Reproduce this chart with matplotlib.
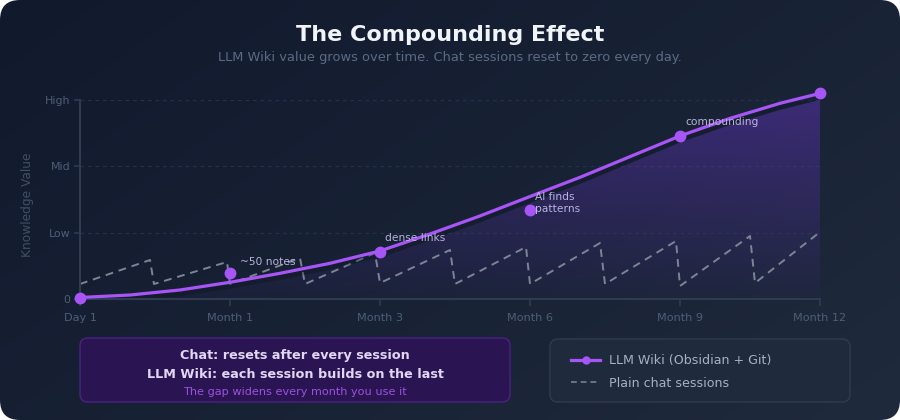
import numpy as np
import matplotlib
matplotlib.use("Agg")
import matplotlib.pyplot as plt
from matplotlib.patches import FancyBboxPatch
from matplotlib.lines import Line2D

# timeline position (px-like units from Day 1) and readings
tick_pos = [0, 150, 300, 450, 600, 740]
tick_labels = ["Day 1", "Month 1", "Month 3", "Month 6", "Month 9", "Month 12"]
level_labels = ["0", "Low", "Mid", "High"]

wiki_x = [0, 50, 100, 150, 200, 250, 300, 350, 400, 450, 500, 550, 600, 650, 700, 740]
wiki_y = [0.023, 0.060, 0.136, 0.252, 0.387, 0.538, 0.724, 0.980, 1.252, 1.545,
          1.834, 2.146, 2.458, 2.723, 2.950, 3.100]

milestone_x = [0, 150, 300, 450, 600, 740]
milestone_y = [0.02, 0.39, 0.71, 1.34, 2.46, 3.10]
milestone_txt = ["", "~50 notes", "dense links", "AI finds\npatterns", "compounding", ""]

chat_x = [0, 70, 74, 147, 150, 220, 225, 295, 300, 370, 375, 446, 450,
          520, 525, 596, 600, 670, 675, 740]
chat_y = [0.226, 0.588, 0.226, 0.558, 0.226, 0.618, 0.226, 0.693, 0.241, 0.739,
          0.226, 0.784, 0.226, 0.844, 0.226, 0.874, 0.196, 0.95, 0.241, 1.01]

PURPLE = "#a855f7"
W, H = 900, 420

fig = plt.figure(figsize=(9, 4.2), dpi=100)
fig.patch.set_facecolor("white")

# background card with diagonal gradient and rounded corners
bg = fig.add_axes([0, 0, 1, 1])
bg.set_xlim(0, W)
bg.set_ylim(H, 0)
bg.axis("off")
gx, gy = np.meshgrid(np.linspace(0, 1, 300), np.linspace(0, 1, 140))
t = (gx * 0.6 + gy * 0.4)
c0 = np.array([0x11, 0x19, 0x2d]) / 255
c1 = np.array([0x1f, 0x2a, 0x3c]) / 255
grad = c0[None, None, :] * (1 - t[..., None]) + c1[None, None, :] * t[..., None]
card = FancyBboxPatch((0, 0), W, H, boxstyle="round,pad=0,rounding_size=20",
                      facecolor="none", edgecolor="none")
bg.add_patch(card)
im = bg.imshow(grad, extent=(0, W, H, 0), aspect="auto", zorder=0)
im.set_clip_path(card)

bg.text(450, 35, "The Compounding Effect", ha="center", va="center",
        fontsize=16, fontweight="bold", color="#f1f5f9")
bg.text(450, 57, "LLM Wiki value grows over time. Chat sessions reset to zero every day.",
        ha="center", va="center", fontsize=9.4, color="#5b6b84")
bg.text(27, 205, "Knowledge Value", rotation=90, ha="center", va="center",
        fontsize=8.8, color="#414f66")

# note box
note = FancyBboxPatch((80, 338), 430, 64, boxstyle="round,pad=0,rounding_size=8",
                      facecolor="#2b1452", edgecolor="#4a2384", linewidth=1)
bg.add_patch(note)
bg.text(295, 355, "Chat: resets after every session", ha="center", va="center",
        fontsize=9.2, fontweight="bold", color="#e2d6f5")
bg.text(295, 375, "LLM Wiki: each session builds on the last", ha="center", va="center",
        fontsize=9.2, fontweight="bold", color="#e2d6f5")
bg.text(295, 392, "The gap widens every month you use it", ha="center", va="center",
        fontsize=8.1, color="#9a52e0")

# legend box
lbox = FancyBboxPatch((550, 339), 300, 63, boxstyle="round,pad=0,rounding_size=8",
                      facecolor="#1f2a3d", edgecolor="#2f3b50", linewidth=1)
bg.add_patch(lbox)

# main chart
ax = fig.add_axes([80 / W, 121 / H, 740 / W, 199 / H])
ax.set_facecolor("none")
ax.set_xlim(0, 740)
ax.set_ylim(0, 3)

wx = np.array(wiki_x)
wy = np.array(wiki_y)
fill_top = wy - 0.1
poly = ax.fill_between(wx, 0, fill_top, facecolor="none", edgecolor="none")
fy = np.linspace(1, 0, 200)[:, None]
fc = np.zeros((200, 2, 4))
fc[..., 0] = 0x7c / 255
fc[..., 1] = 0x3a / 255
fc[..., 2] = 0xed / 255
fc[..., 3] = 0.03 + 0.33 * fy
fim = ax.imshow(fc, extent=(0, 740, 0, 3.1), aspect="auto", zorder=1,
                origin="upper")
fim.set_clip_path(poly.get_paths()[0], transform=ax.transData)

for yv in [1, 2, 3]:
    ax.axhline(yv, color="#243047", lw=0.9, ls=(0, (3, 3)), zorder=0.5)

ax.plot(chat_x, chat_y, color="#7c8596", lw=1.4, ls=(0, (4, 3)), zorder=2)
ax.plot(wx, wy - 0.05, color="#0f1524", lw=4, alpha=0.3, zorder=2.5,
        solid_capstyle="round")
ax.plot(wx, wy, color=PURPLE, lw=2.3, zorder=3, solid_capstyle="round",
        solid_joinstyle="round", clip_on=False)
ax.plot(milestone_x, milestone_y, "o", color=PURPLE, ms=7.5, zorder=4,
        clip_on=False)

offsets = [(0, 0), (10, 0.17), (5, 0.21), (5, 0.11), (5, 0.21), (0, 0)]
for x, y, s, (dx, dy) in zip(milestone_x, milestone_y, milestone_txt, offsets):
    if s:
        ax.text(x + dx, y + dy, s, ha="left", va="center", fontsize=7.7,
                color="#b9b3e0", zorder=5, linespacing=1.2)

ax.set_xticks(tick_pos)
ax.set_xticklabels(tick_labels)
ax.set_yticks([0, 1, 2, 3])
ax.set_yticklabels(level_labels)
ax.tick_params(axis="x", colors="#2f3b50", labelcolor="#4d5e78", length=5,
               width=1.2, labelsize=8.1, pad=5)
ax.tick_params(axis="y", colors="#2f3b50", labelcolor="#4d5e78", length=4,
               width=1.2, labelsize=7.9, pad=3)
for s in ["top", "right"]:
    ax.spines[s].set_visible(False)
for s in ["left", "bottom"]:
    ax.spines[s].set_color("#2f3b50")
    ax.spines[s].set_linewidth(1.5)

handles = [
    Line2D([0], [0], color=PURPLE, lw=2.3, marker="o", ms=5),
    Line2D([0], [0], color="#6b7486", lw=1.4, ls=(0, (3, 2))),
]
fig.legend(handles, ["LLM Wiki (Obsidian + Git)", "Plain chat sessions"],
           loc="upper left", bbox_to_anchor=(560 / W, 1 - 343 / H),
           frameon=False, fontsize=9.1, labelcolor="#a7b0c4",
           handlelength=2.3, handletextpad=0.7, labelspacing=0.75)

fig.savefig("out.png", dpi=100, facecolor=fig.get_facecolor())
